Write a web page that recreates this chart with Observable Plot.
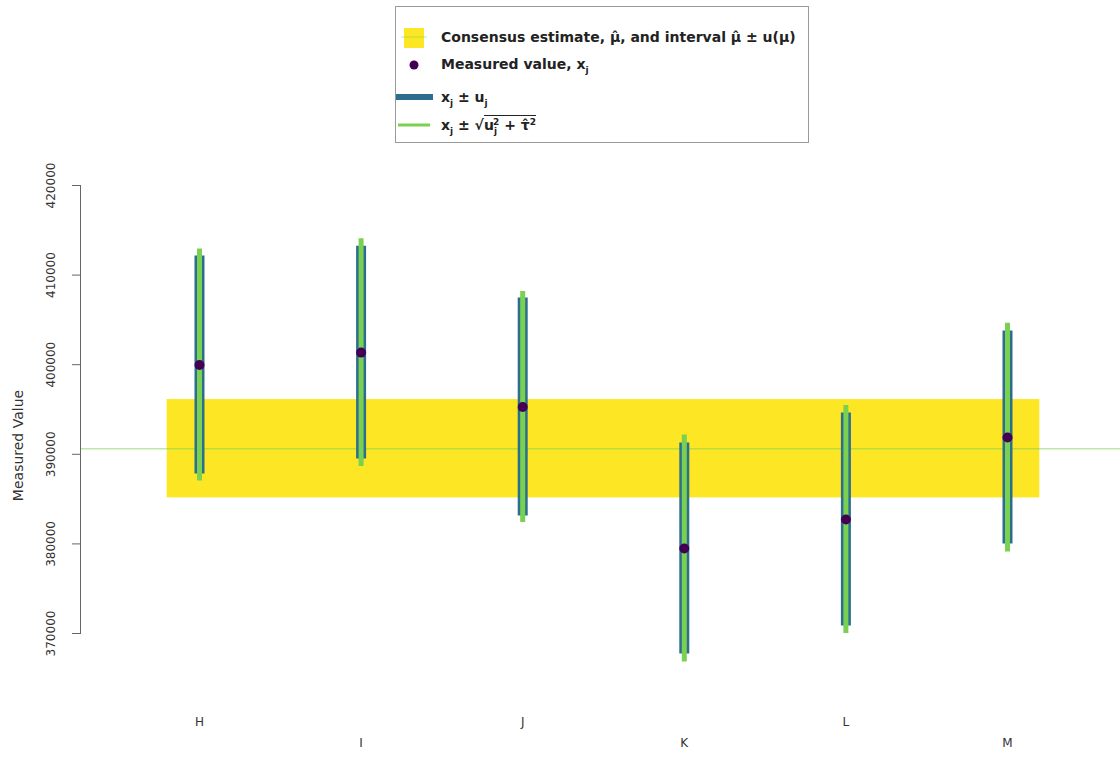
<!DOCTYPE html>
<html>
<head>
<meta charset="utf-8">
<script src="https://cdn.jsdelivr.net/npm/d3@7"></script>
<script src="https://cdn.jsdelivr.net/npm/@observablehq/plot@0.6"></script>
<style>
  html, body { margin: 0; padding: 0; background: #fff; }
  body { width: 1120px; height: 759px; overflow: hidden; font-family: "DejaVu Sans", sans-serif; }
  #top { position: relative; height: 150px; }
  #box { position: absolute; left: 395px; top: 6px; width: 412px; height: 135px; border: 1px solid #9a9a9a; box-sizing: content-box; }
  .row { position: absolute; left: 45px; height: 18px; line-height: 18px; font-size: 14px; font-weight: bold; color: #222; white-space: nowrap; }
  .sb { font-size: 9px; position: relative; top: 4px; }
  .sp { font-size: 9px; position: relative; top: -5px; }
  .rad { border-top: 1px solid #222; padding-top: 1px; }
  #chart svg { display: block; overflow: visible; }
</style>
</head>
<body>
<div id="top">
  <div id="box">
    <svg width="44" height="135" style="position:absolute;left:0;top:0;">
      <rect x="8" y="21" width="20" height="20" fill="#FDE725"></rect>
      <line x1="5" x2="31" y1="30" y2="30" stroke="#7AD151" stroke-opacity="0.5" stroke-width="1"></line>
      <circle cx="18" cy="58" r="4.5" fill="#440154"></circle>
      <line x1="0" x2="37" y1="90" y2="90" stroke="#2C6E8E" stroke-width="6"></line>
      <line x1="2" x2="34" y1="118" y2="118" stroke="#7AD151" stroke-width="3"></line>
    </svg>
    <div class="row" style="top:21px;">Consensus estimate, μ̂, and interval μ̂ ± u(μ)</div>
    <div class="row" style="top:48px;">Measured value, x<span class="sb">j</span></div>
    <div class="row" style="top:81px;">x<span class="sb">j</span> ± u<span class="sb">j</span></div>
    <div class="row" style="top:109px;">x<span class="sb">j</span> ± √<span class="rad">u<span class="sb">j</span><span class="sp" style="margin-left:-4px">2</span> + τ̂<span class="sp">2</span></span></div>
  </div>
</div>
<div id="chart"></div>
<script>
const labels = ["H", "I", "J", "K", "L", "M"];
const measured = [399960, 401350, 395280, 379490, 382730, 391870];
const uStd = [12160, 11880, 12160, 11770, 11880, 11880];
const uExpanded = [12940, 12720, 12880, 12660, 12720, 12770];
const consensus = 390620;
const consensusU = 5490;
const yTicks = [370000, 380000, 390000, 400000, 410000, 420000];
const bandPad = 0.2;

const rows = labels.map((lab, i) => ({lab, idx: i + 1, v: measured[i], u: uStd[i], ue: uExpanded[i]}));
const firstIdx = rows[0].idx, lastIdx = rows[rows.length - 1].idx;

const chart = Plot.plot({
  width: 1120,
  height: 609,
  marginTop: 35,
  marginBottom: 126,
  marginLeft: 80,
  marginRight: 0,
  x: {domain: [firstIdx, lastIdx], range: [199, 1007], axis: null},
  y: {domain: [yTicks[0], yTicks[yTicks.length - 1]], axis: null},
  style: {fontFamily: "DejaVu Sans, sans-serif", background: "white", color: "#333", overflow: "visible"},
  marks: [
    Plot.rect([consensus], {x1: () => firstIdx - bandPad, x2: () => lastIdx + bandPad, y1: d => d - consensusU, y2: d => d + consensusU, fill: "#FDE725"}),
    Plot.ruleY([consensus], {stroke: "#7AD151", strokeOpacity: 0.5, strokeWidth: 1.5}),
    Plot.ruleX(rows, {x: "idx", y1: d => d.v - d.u, y2: d => d.v + d.u, stroke: "#2C6E8E", strokeWidth: 10}),
    Plot.ruleX(rows, {x: "idx", y1: d => d.v - d.ue, y2: d => d.v + d.ue, stroke: "#7AD151", strokeWidth: 5}),
    Plot.dot(rows, {x: "idx", y: "v", r: 5, fill: "#440154"}),
    Plot.frame({anchor: "left", stroke: "#666"}),
    Plot.axisY(yTicks, {tickSize: 8, tickFormat: () => "", label: null, stroke: "#666"}),
    Plot.text(yTicks, {y: d => d, text: d => String(d), frameAnchor: "left", textAnchor: "middle", dx: -29, rotate: -90, fontSize: 12, fill: "#333"}),
    Plot.text(["Measured Value"], {frameAnchor: "left", textAnchor: "middle", dx: -62, dy: 36, rotate: -90, fontSize: 14, fill: "#333"}),
    Plot.text(rows.filter((d, i) => i % 2 === 0), {x: "idx", text: "lab", frameAnchor: "bottom", dy: 92, fontSize: 12, fill: "#333"}),
    Plot.text(rows.filter((d, i) => i % 2 === 1), {x: "idx", text: "lab", frameAnchor: "bottom", dy: 113, fontSize: 12, fill: "#333"})
  ]
});
document.getElementById("chart").appendChild(chart);
</script>
</body>
</html>
